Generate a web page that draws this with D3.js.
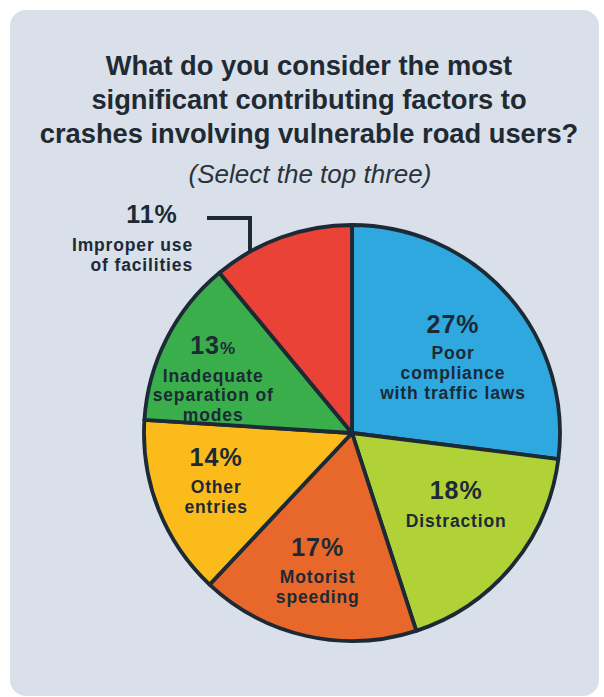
<!DOCTYPE html>
<html>
<head>
<meta charset="utf-8">
<script src="https://cdn.jsdelivr.net/npm/d3@7"></script>
<style>
  html, body { margin: 0; padding: 0; background: #ffffff; }
  svg { display: block; }
</style>
</head>
<body>
<svg id="chart" width="604" height="697"></svg>
<script>
// Survey answers, clockwise from 12 o'clock
const categories = [
  "Poor compliance with traffic laws",
  "Distraction",
  "Motorist speeding",
  "Other entries",
  "Inadequate separation of modes",
  "Improper use of facilities"
];
const values = [27, 18, 17, 14, 13, 11];
const labelLines = [
  ["Poor", "compliance", "with traffic laws"],
  ["Distraction"],
  ["Motorist", "speeding"],
  ["Other", "entries"],
  ["Inadequate", "separation of", "modes"],
  ["Improper use", "of facilities"]
];
const sliceColors = ["#2fa7df", "#b1d237", "#e8672a", "#fbbb1b", "#3aae4a", "#ea4236"];

const titleLines = [
  "What do you consider the most",
  "significant contributing factors to",
  "crashes involving vulnerable road users?"
];
const subtitle = "(Select the top three)";

const ink = "#1c2a36";
const font = "'Liberation Sans', Arial, sans-serif";

const svg = d3.select("#chart");

// background card
svg.append("rect")
  .attr("x", 10).attr("y", 10)
  .attr("width", 589).attr("height", 686)
  .attr("rx", 16)
  .attr("fill", "#d9e0ea");

// title
const title = svg.append("g").attr("font-family", font).attr("fill", "#1f2a33").attr("text-anchor", "middle");
titleLines.forEach((t, i) => {
  title.append("text")
    .attr("x", 309).attr("y", 75 + i * 34)
    .attr("font-size", 27.3).attr("font-weight", 700)
    .text(t);
});
title.append("text")
  .attr("x", 310).attr("y", 183)
  .attr("font-size", 26).attr("font-style", "italic")
  .attr("fill", "#2b333b")
  .text(subtitle);

// pie
const cx = 352, cy = 433, R = 208;
const pie = d3.pie().sort(null).value(d => d)(values);
const arc = d3.arc().innerRadius(0).outerRadius(R);
const labelArc = d3.arc().innerRadius(130).outerRadius(130);

const g = svg.append("g").attr("transform", `translate(${cx},${cy})`);
g.selectAll("path.slice")
  .data(pie)
  .join("path")
  .attr("class", "slice")
  .attr("d", arc)
  .attr("fill", (d, i) => sliceColors[i])
  .attr("stroke", ink)
  .attr("stroke-width", 3.8)
  .attr("stroke-linejoin", "round");

// inside labels: anchored on the slice centroid, nudged to sit clear of the borders
const nudge = [[3.5, -14], [4, -17], [-6, -4], [-15, -15], [-23, -19.5]];
const firstGap = [26, 28, 27, 27, 27.5];
const lineGaps = [[20, 20], [], [20], [20], [19.5, 19.5]];
const pctSize = 25, catSize = 17.5;

const labels = g.append("g").attr("font-family", font).attr("fill", ink)
  .attr("text-anchor", "middle").attr("font-weight", 700);

pie.forEach((d, i) => {
  if (i === 5) return;
  const [c0, c1] = labelArc.centroid(d);
  const bx = c0 + nudge[i][0];
  const by = c1 + nudge[i][1];
  const t = labels.append("text").attr("x", bx).attr("y", by)
    .attr("font-size", pctSize).attr("letter-spacing", 1);
  if (i === 4) {
    t.append("tspan").text(values[i]);
    t.append("tspan").attr("font-size", 17).text("%");
  } else {
    t.text(values[i] + "%");
  }
  let y = by + firstGap[i];
  labelLines[i].forEach((l, k) => {
    if (k > 0) y += lineGaps[i][k - 1];
    labels.append("text")
      .attr("x", bx).attr("y", y)
      .attr("font-size", catSize)
      .attr("letter-spacing", 0.85)
      .text(l);
  });
});

// outside label for the smallest slice, tied to it with a leader line
const leaderX = 250 - cx;
const leaderAngle = -Math.asin(-leaderX / R);
const ex = Math.sin(leaderAngle) * R, ey = -Math.cos(leaderAngle) * R;
g.append("path")
  .attr("d", `M${207 - cx},${218 - cy}H${ex}V${ey}`)
  .attr("fill", "none")
  .attr("stroke", ink)
  .attr("stroke-width", 4);

labels.append("text").attr("x", 152 - cx).attr("y", 223 - cy)
  .attr("font-size", pctSize).attr("letter-spacing", 1)
  .text(values[5] + "%");
labelLines[5].forEach((l, k) => {
  labels.append("text")
    .attr("x", 193 - cx).attr("y", 251 - cy + k * 19.5)
    .attr("text-anchor", "end")
    .attr("font-size", catSize)
    .attr("letter-spacing", 0.85)
    .text(l);
});
</script>
</body>
</html>
